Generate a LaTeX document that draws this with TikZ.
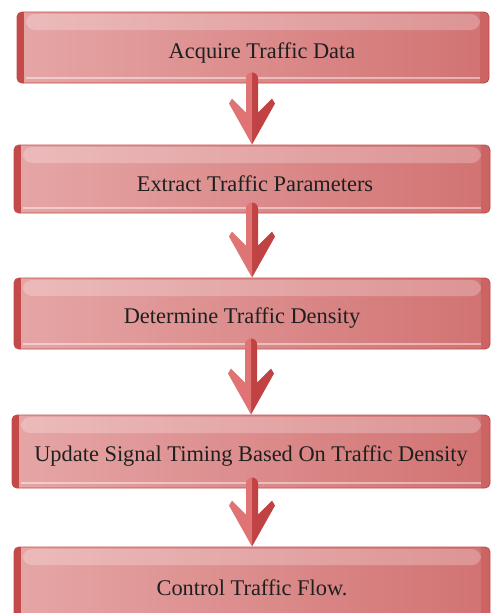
\documentclass[tikz,border=0pt]{standalone}
\usepackage{fontspec}
\setmainfont{Liberation Serif}
\usetikzlibrary{calc}

\definecolor{boxL}{RGB}{230,166,166}
\definecolor{boxR}{RGB}{210,114,114}
\definecolor{boxEdge}{RGB}{196,74,74}
\definecolor{arrLight}{RGB}{224,116,116}
\definecolor{arrDark}{RGB}{192,66,66}

\tikzset{
  stepbox/.style={
    draw=boxEdge, line width=0.9pt, rounded corners=5pt,
    left color=boxL, right color=boxR,
    font=\fontsize{22.4}{26}\selectfont, text=black!88, inner sep=0pt,
    path picture={
      % dark bevel on the left edge
      \fill[boxEdge, sharp corners]
        ([xshift=-2pt,yshift=2pt]path picture bounding box.north west)
        rectangle ([xshift=7pt,yshift=-2pt]path picture bounding box.south west);
      % slightly darker band on the right edge
      \fill[boxEdge, opacity=0.35, sharp corners]
        ([xshift=-9pt,yshift=2pt]path picture bounding box.north east)
        rectangle ([xshift=2pt,yshift=-2pt]path picture bounding box.south east);
      % glossy highlight along the top
      \fill[white, opacity=0.24, rounded corners=9pt]
        ([xshift=9pt,yshift=-2pt]path picture bounding box.north west)
        rectangle ([xshift=-9pt,yshift=-18pt]path picture bounding box.north east);
      % light rim near the bottom
      \draw[white, opacity=0.45, line width=1.2pt, sharp corners]
        ([xshift=9pt,yshift=5pt]path picture bounding box.south west)
        -- ([xshift=-9pt,yshift=5pt]path picture bounding box.south east);
    }},
  arrowlight/.style={fill=arrLight, sharp corners},
  arrowdark/.style={fill=arrDark, sharp corners},
}

% thick 3D down arrow from the bottom of box #1 to the top of box #2
\newcommand\flowarrow[2]{%
  \fill[arrowdark] let \p1=(#1.south), \p2=(#2.north) in
    ({\x2},{\y1+11pt}) arc (90:0:6pt)
    -- ({\x2+6pt},{\y2+32pt}) -- ({\x2+20pt},{\y2+46pt})
    -- ({\x2+23pt},{\y2+41pt}) -- ({\x2},{\y2}) -- cycle;
  \fill[arrowlight] let \p1=(#1.south), \p2=(#2.north) in
    ({\x2},{\y1+11pt}) arc (90:180:6pt)
    -- ({\x2-6pt},{\y2+32pt}) -- ({\x2-20pt},{\y2+46pt})
    -- ({\x2-23pt},{\y2+41pt}) -- ({\x2},{\y2}) -- cycle;
}
% step text, set a little below the box centre
\newcommand\steptext[1]{\raisebox{-5pt}[\height][\depth]{#1}}

\begin{document}
\begin{tikzpicture}[x=1pt,y=-1pt]
  \useasboundingbox (0,0) rectangle (491,613);
  \clip (0,0) rectangle (491,613);

  \node[stepbox, minimum width=472pt, minimum height=71pt] (b1) at (253,47.5)
    {\steptext{\hspace*{18pt}Acquire Traffic Data}};
  \node[stepbox, minimum width=476pt, minimum height=68pt] (b2) at (252,179)
    {\steptext{\hspace*{6pt}Extract Traffic Parameters}};
  \node[stepbox, minimum width=476pt, minimum height=71pt] (b3) at (252,313.5)
    {\steptext{Determine Traffic Density\hspace*{20pt}}};
  \node[stepbox, minimum width=478pt, minimum height=73pt] (b4) at (251,451.5)
    {\steptext{Update Signal Timing Based On Traffic Density}};
  \node[stepbox, minimum width=476pt, minimum height=72pt] (b5) at (252,583)
    {\steptext{Control Traffic Flow.}};

  \flowarrow{b1}{b2}
  \flowarrow{b2}{b3}
  \flowarrow{b3}{b4}
  \flowarrow{b4}{b5}
\end{tikzpicture}
\end{document}
